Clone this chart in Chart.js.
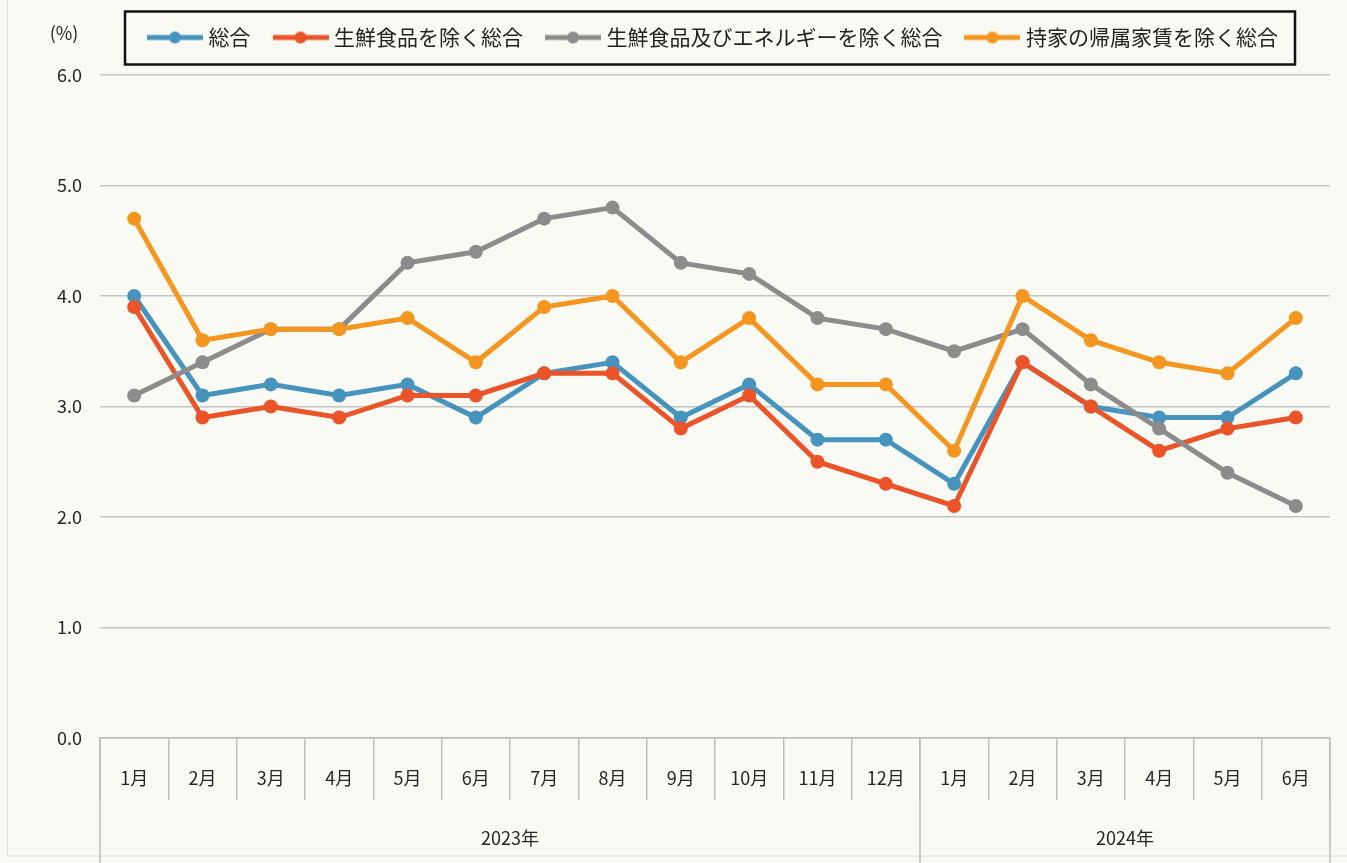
<!DOCTYPE html>
<html>
<head>
<meta charset="utf-8">
<script src="https://cdn.jsdelivr.net/npm/chart.js@4.4.1/dist/chart.umd.min.js"></script>
<style>
  html, body { margin: 0; padding: 0; background: #fafaf5; }
  #wrap { width: 1347px; height: 863px; }
  canvas { display: block; }
</style>
</head>
<body>
<div id="wrap"><canvas id="c" width="1347" height="863"></canvas></div>
<script>
// ---- data ----
const months = ['1月','2月','3月','4月','5月','6月','7月','8月','9月','10月','11月','12月','1月','2月','3月','4月','5月','6月'];
const yearLabels = ['2023年', '2024年'];
const monthsPerYear = [12, 6];
const yMin = 0, yMax = 6, yStep = 1;
const unitLabel = '(%)';
const seriesNames = ['総合', '生鮮食品を除く総合', '生鮮食品及びエネルギーを除く総合', '持家の帰属家賃を除く総合'];
const sogo       = [4.0, 3.1, 3.2, 3.1, 3.2, 2.9, 3.3, 3.4, 2.9, 3.2, 2.7, 2.7, 2.3, 3.4, 3.0, 2.9, 2.9, 3.3];
const exFresh    = [3.9, 2.9, 3.0, 2.9, 3.1, 3.1, 3.3, 3.3, 2.8, 3.1, 2.5, 2.3, 2.1, 3.4, 3.0, 2.6, 2.8, 2.9];
const exFreshEn  = [3.1, 3.4, 3.7, 3.7, 4.3, 4.4, 4.7, 4.8, 4.3, 4.2, 3.8, 3.7, 3.5, 3.7, 3.2, 2.8, 2.4, 2.1];
const exRent     = [4.7, 3.6, 3.7, 3.7, 3.8, 3.4, 3.9, 4.0, 3.4, 3.8, 3.2, 3.2, 2.6, 4.0, 3.6, 3.4, 3.3, 3.8];

// ---- styling ----
const FONT = "'Noto Sans CJK JP', 'Noto Sans', sans-serif";
const AXIS_COLOR = '#bdbdbd';
const TEXT_COLOR = '#262626';
const colors = ['#4694bd', '#ea5428', '#8c8c8c', '#f4961f'];

function legendMarker(color) {
  const c = document.createElement('canvas');
  c.width = 56; c.height = 16;
  const g = c.getContext('2d');
  g.strokeStyle = color; g.lineWidth = 5;
  g.beginPath(); g.moveTo(0, 8); g.lineTo(56, 8); g.stroke();
  g.fillStyle = color;
  g.beginPath(); g.arc(28, 8, 6, 0, Math.PI * 2); g.fill();
  return c;
}
const markers = colors.map(legendMarker);

const bgPlugin = {
  id: 'bg',
  beforeDraw(chart) {
    const { ctx, width, height } = chart;
    ctx.save();
    ctx.fillStyle = '#fafaf5';
    ctx.fillRect(0, 0, width, height);
    ctx.strokeStyle = '#deded8';
    ctx.lineWidth = 1;
    ctx.strokeRect(7.5, -2, width - 4, height - 5);
    ctx.restore();
  }
};

const decorPlugin = {
  id: 'decor',
  afterDraw(chart) {
    const { ctx, chartArea, scales: { x, y } } = chart;
    const n = months.length;
    const edge = i => i <= 0 ? x.left : (i >= n ? x.right : (x.getPixelForValue(i - 1) + x.getPixelForValue(i)) / 2);
    ctx.save();
    ctx.strokeStyle = AXIS_COLOR;
    ctx.lineWidth = 1.5;
    const bounds = [0];
    let acc = 0;
    monthsPerYear.forEach(c => { acc += c; bounds.push(acc); });
    bounds.forEach(b => {
      const px = edge(b);
      ctx.beginPath();
      ctx.moveTo(px, chartArea.bottom);
      ctx.lineTo(px, chart.height);
      ctx.stroke();
    });
    ctx.fillStyle = TEXT_COLOR;
    ctx.font = `18px ${FONT}`;
    ctx.textAlign = 'center';
    ctx.textBaseline = 'middle';
    for (let g = 0; g < yearLabels.length; g++) {
      const cx = (edge(bounds[g]) + edge(bounds[g + 1])) / 2;
      ctx.fillText(yearLabels[g], cx, chartArea.bottom + 100);
    }
    ctx.fillText(unitLabel, y.right - 36, 33);
    const hb = chart.legend.legendHitBoxes;
    if (hb && hb.length) {
      const l = Math.min(...hb.map(h => h.left)) - 27;
      const r = Math.max(...hb.map(h => h.left + h.width)) + 17;
      const t = hb[0].top + hb[0].height / 2 - 26;
      ctx.strokeStyle = '#111';
      ctx.lineWidth = 2.5;
      ctx.strokeRect(l, t, r - l, 53);
    }
    ctx.restore();
  }
};

const seriesData = [sogo, exFresh, exFreshEn, exRent];
const datasets = seriesNames.map((name, i) => ({
  label: name,
  data: seriesData[i],
  borderColor: colors[i],
  backgroundColor: colors[i],
  borderWidth: 5,
  pointRadius: 7,
  pointHoverRadius: 7,
  pointBorderWidth: 0,
  pointBackgroundColor: colors[i],
  tension: 0,
  order: seriesNames.length - i
}));

new Chart(document.getElementById('c'), {
  type: 'line',
  data: { labels: months, datasets },
  plugins: [bgPlugin, decorPlugin],
  options: {
    responsive: false,
    animation: false,
    layout: { padding: { top: 0, left: 0, right: 17, bottom: 0 } },
    plugins: {
      tooltip: { enabled: false },
      subtitle: {
        display: true, text: ' ', weight: 500,
        font: { size: 1 }, padding: { top: 0, bottom: 15.8 }
      },
      legend: {
        position: 'top',
        fullSize: false,
        labels: {
          font: { family: FONT, size: 21 },
          color: '#222',
          usePointStyle: true,
          pointStyleWidth: 46,
          padding: 27,
          sort: (a, b) => a.datasetIndex - b.datasetIndex,
          generateLabels: (chart) => {
            const items = Chart.defaults.plugins.legend.labels.generateLabels(chart);
            items.forEach(it => { it.pointStyle = markers[it.datasetIndex]; });
            return items;
          }
        }
      }
    },
    scales: {
      x: {
        type: 'category',
        offset: true,
        grid: {
          offset: true, drawOnChartArea: false, drawTicks: true,
          tickLength: 62, color: AXIS_COLOR, lineWidth: 1.5
        },
        border: { display: true, color: AXIS_COLOR, width: 1.5 },
        ticks: {
          font: { family: FONT, size: 18 }, color: TEXT_COLOR,
          padding: -33, maxRotation: 0, autoSkip: false
        },
        afterFit: s => { s.height = 125; }
      },
      y: {
        min: yMin, max: yMax,
        grid: { color: '#c4c4c4', lineWidth: 1.5, drawTicks: false },
        border: { display: false },
        ticks: {
          stepSize: yStep,
          font: { family: FONT, size: 18 }, color: TEXT_COLOR,
          padding: 18,
          callback: v => Number(v).toFixed(1)
        },
        afterFit: s => { s.width = 100; }
      }
    }
  }
});
</script>
</body>
</html>
